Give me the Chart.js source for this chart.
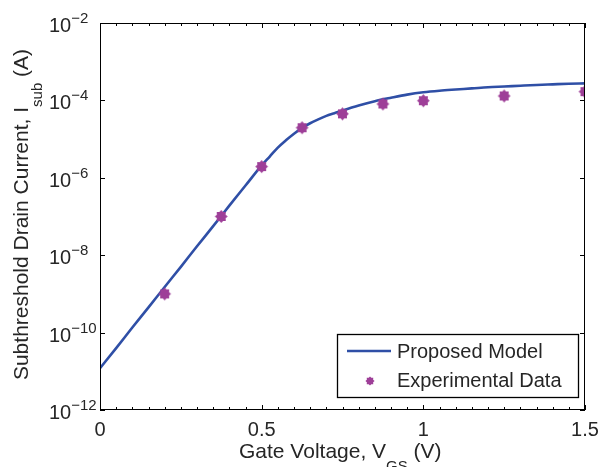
<!DOCTYPE html>
<html><head><meta charset="utf-8">
<script src="https://cdn.jsdelivr.net/npm/chart.js@4/dist/chart.umd.min.js"></script>
<style>html,body{margin:0;padding:0;background:#fff}#wrap{width:600px;height:467px}</style>
</head><body><div id="wrap"><canvas id="c" width="600" height="467"></canvas></div>
<script>
// ---- data ----
const modelVoltage = [0,0.05,0.1,0.15,0.2,0.25,0.3,0.35,0.4,0.45,0.5,0.525,0.55,0.575,0.6,0.625,0.65,0.675,0.7,0.725,0.75,0.8,0.85,0.9,0.95,1.0,1.05,1.1,1.15,1.2,1.25,1.3,1.35,1.4,1.45,1.5];
const modelCurrent = [1.20e-11,3.98e-11,1.35e-10,4.47e-10,1.51e-9,5.01e-9,1.70e-8,5.62e-8,1.91e-7,6.31e-7,2.09e-6,3.55e-6,6.03e-6,9.33e-6,1.38e-5,1.95e-5,2.57e-5,3.24e-5,3.98e-5,4.68e-5,5.50e-5,7.41e-5,9.55e-5,1.17e-4,1.41e-4,1.62e-4,1.78e-4,1.91e-4,2.04e-4,2.19e-4,2.29e-4,2.40e-4,2.51e-4,2.60e-4,2.69e-4,2.75e-4];
const expVoltage = [0.2,0.375,0.5,0.625,0.75,0.875,1.0,1.25,1.5];
const expCurrent = [1.0e-9,1.0e-7,1.95e-6,1.97e-5,4.5e-5,8.1e-5,9.8e-5,1.3e-4,1.68e-4];
const xTickValues = [0,0.5,1,1.5];
const yTickExponents = [-12,-10,-8,-6,-4,-2];
const seriesNames = ['Proposed Model','Experimental Data'];

const FONT = '"Liberation Sans", Arial, Helvetica, sans-serif';
const TXT = '#262626';
const LINE = '#2f4fa6';
const MARK = '#9e3f98';

function makeStar(r){
  const s = Math.ceil(r*2+2);
  const c = document.createElement('canvas'); c.width = s; c.height = s;
  const g = c.getContext('2d');
  g.translate(s/2, s/2);
  g.beginPath();
  for (let i=0;i<16;i++){
    const ang = i*Math.PI/8 - Math.PI/2;
    const rr = (i%2) ? r*0.74 : r;
    g.lineTo(rr*Math.cos(ang), rr*Math.sin(ang));
  }
  g.closePath(); g.fillStyle = MARK; g.fill();
  return c;
}
const starBig = makeStar(6.4);
const starSmall = makeStar(4.6);

function drawRich(ctx, parts, x, y){
  let cx = x;
  for (const [t, size, dy] of parts){
    ctx.font = size + 'px ' + FONT;
    ctx.fillText(t, cx, y + dy);
    cx += ctx.measureText(t).width;
  }
  return cx - x;
}
function richWidth(ctx, parts){
  let w = 0;
  for (const [t, size] of parts){ ctx.font = size + 'px ' + FONT; w += ctx.measureText(t).width; }
  return w;
}

const decor = {
  id: 'decor',
  afterDraw(chart){
    const {ctx, chartArea: a, scales:{x, y}} = chart;
    ctx.save();
    ctx.strokeStyle = '#000'; ctx.lineWidth = 1;
    ctx.strokeRect(Math.round(a.left)+0.5, Math.round(a.top)+0.5, Math.round(a.right-a.left)-1, Math.round(a.bottom-a.top)-1);
    ctx.beginPath();
    for (let k=0; k<=30; k++){
      const v = k*0.05;
      const px = Math.round(x.getPixelForValue(v))+0.5;
      const len = (k%10===0) ? 5 : 3;
      ctx.moveTo(px, a.bottom); ctx.lineTo(px, a.bottom-len);
      ctx.moveTo(px, a.top); ctx.lineTo(px, a.top+len);
    }
    for (const e of yTickExponents){
      const py = Math.round(y.getPixelForValue(Math.pow(10,e)))+0.5;
      ctx.moveTo(a.left, py); ctx.lineTo(a.left+5, py);
      ctx.moveTo(a.right, py); ctx.lineTo(a.right-5, py);
    }
    ctx.stroke();

    ctx.fillStyle = TXT;
    ctx.textAlign = 'left'; ctx.textBaseline = 'alphabetic';
    for (const e of yTickExponents){
      const py = y.getPixelForValue(Math.pow(10,e));
      drawRich(ctx, [['10',20,0],['\u2212'+Math.abs(e),15,-9]], 49, py+9);
    }

    drawRich(ctx, [['Gate Voltage, V',21,0],['GS',15,13],[' (V)',21,0]], 239, 458);

    const yParts = [['Subthreshold Drain Current, I',21,0],['sub',15,14],[' (A)',21,0]];
    const w = richWidth(ctx, yParts);
    ctx.save();
    ctx.translate(28, (a.top+a.bottom)/2 + w/2 - 2);
    ctx.rotate(-Math.PI/2);
    drawRich(ctx, yParts, 0, 0);
    ctx.restore();

    const lx = 337, ly = 334, lw = 241, lh = 63;
    ctx.fillStyle = '#fff';
    ctx.fillRect(lx, ly, lw, lh);
    ctx.strokeStyle = '#000'; ctx.lineWidth = 1.3;
    ctx.strokeRect(lx+0.5, ly+0.5, lw, lh);
    ctx.strokeStyle = LINE; ctx.lineWidth = 2.5;
    ctx.beginPath(); ctx.moveTo(347, 351); ctx.lineTo(391, 351); ctx.stroke();
    ctx.drawImage(starSmall, 370 - starSmall.width/2, 381 - starSmall.height/2);
    ctx.fillStyle = TXT; ctx.font = '20px ' + FONT; ctx.textBaseline = 'middle';
    ctx.fillText(seriesNames[0], 397, 352);
    ctx.fillText(seriesNames[1], 397, 381);
    ctx.restore();
  }
};

new Chart(document.getElementById('c'), {
  type: 'scatter',
  data: {
    datasets: [
      {
        label: seriesNames[0],
        data: modelVoltage.map((v,i)=>({x:v, y:modelCurrent[i]})),
        showLine: true, borderColor: LINE, borderWidth: 2.6,
        pointRadius: 0, cubicInterpolationMode: 'monotone', order: 2
      },
      {
        label: seriesNames[1],
        data: expVoltage.map((v,i)=>({x:v, y:expCurrent[i]})),
        showLine: false, pointStyle: starBig, pointRadius: 6,
        backgroundColor: MARK, borderColor: MARK, order: 1
      }
    ]
  },
  options: {
    responsive: false, animation: false, devicePixelRatio: 1,
    layout: { padding: { top: 23, right: 15, left: 0, bottom: 0 } },
    plugins: { legend: { display: false }, tooltip: { enabled: false } },
    scales: {
      x: {
        type: 'linear', min: 0, max: 1.5,
        grid: { display: false, drawTicks: false },
        border: { display: false },
        ticks: { stepSize: 0.5, padding: 8, color: TXT, font: { family: FONT, size: 20 },
                 callback: (v) => xTickValues.includes(v) ? String(v) : '' },
        afterFit: (s) => { s.height = 57; s.paddingLeft = 0; s.paddingRight = 0; }
      },
      y: {
        type: 'logarithmic', min: 1e-12, max: 1e-2,
        grid: { display: false },
        border: { display: false },
        ticks: { display: false },
        afterFit: (s) => { s.width = 100; s.paddingTop = 0; s.paddingBottom = 0; }
      }
    }
  },
  plugins: [decor]
});
</script>
</body></html>
